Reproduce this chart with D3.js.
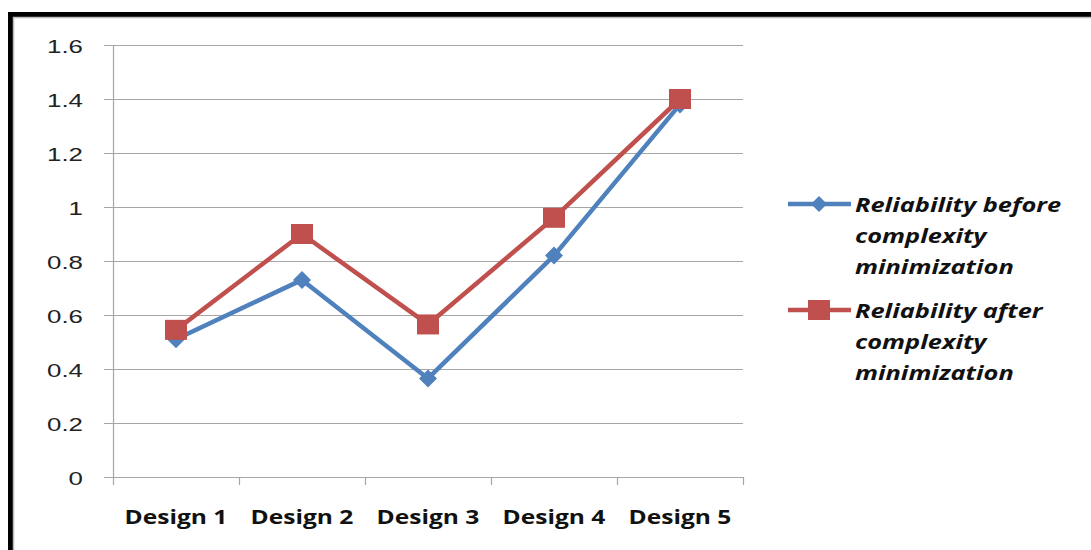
<!DOCTYPE html>
<html><head><meta charset="utf-8">
<script src="https://cdn.jsdelivr.net/npm/d3@7"></script>
<style>html,body{margin:0;padding:0;background:#fff;overflow:hidden}</style>
</head><body>
<svg id="c" width="1091" height="550"></svg>
<script>
const categories = ["Design 1","Design 2","Design 3","Design 4","Design 5"];
const before = [0.51, 0.73, 0.365, 0.82, 1.38];
const after = [0.545, 0.90, 0.565, 0.96, 1.40];
const yTicks = [0, 0.2, 0.4, 0.6, 0.8, 1, 1.2, 1.4, 1.6];
const seriesNames = [["Reliability before","complexity","minimization"],["Reliability after","complexity","minimization"]];

const svg = d3.select("#c");
function stretch(sel, f){
  sel.each(function(){
    const w = this.getComputedTextLength();
    d3.select(this).attr("textLength", w*f).attr("lengthAdjust","spacingAndGlyphs");
  });
}
// frame
svg.append("rect").attr("x",10.5).attr("y",14.5).attr("width",1200).attr("height",700)
  .attr("fill","none").attr("stroke","#000").attr("stroke-width",5);
svg.append("rect").attr("x",13.5).attr("y",17.5).attr("width",1200).attr("height",700)
  .attr("fill","none").attr("stroke","#bbb").attr("stroke-width",1.5);

const L=113, R=743, T=45, B=477;
const x = d3.scaleBand().domain(categories).range([L,R]);
const y = d3.scaleLinear().domain([0,1.6]).range([B,T]);

const g = svg.append("g");
g.selectAll("line.grid").data(yTicks).join("line")
  .attr("x1",104).attr("x2",R).attr("y1",d=>Math.round(y(d))+0.5).attr("y2",d=>Math.round(y(d))+0.5)
  .attr("stroke","#a6a6a6").attr("stroke-width",1.2);
g.append("line").attr("x1",L+0.5).attr("x2",L+0.5).attr("y1",T).attr("y2",B).attr("stroke","#a6a6a6").attr("stroke-width",1.2);
const xt = categories.map(c=>x(c)).concat([R]);
g.selectAll("line.xt").data(xt).join("line")
  .attr("x1",d=>Math.round(d)+0.5).attr("x2",d=>Math.round(d)+0.5).attr("y1",B).attr("y2",B+8)
  .attr("stroke","#a6a6a6").attr("stroke-width",1.2);
const yl = g.selectAll("text.yl").data(yTicks).join("text")
  .attr("x",83).attr("y",d=>y(d)+1).attr("dy","0.36em").attr("text-anchor","end")
  .attr("font-family","Liberation Sans, Arial, sans-serif").attr("font-size",19).attr("fill","#222")
  .text(d=>String(+d.toFixed(1)));
stretch(yl, 1.36);
const xl = g.selectAll("text.xl").data(categories).join("text")
  .attr("x",d=>x(d)+x.bandwidth()/2).attr("y",524).attr("text-anchor","middle")
  .attr("font-family","Open Sans, sans-serif").attr("font-weight","bold").attr("font-size",19.5).attr("fill","#111")
  .text(d=>d);
stretch(xl, 1.26);

const line = d3.line().x((d,i)=>x(categories[i])+x.bandwidth()/2).y(d=>y(d));
const blue="#4F81BD", red="#C0504D";
g.append("path").datum(before).attr("d",line).attr("fill","none").attr("stroke",blue).attr("stroke-width",4.5).attr("stroke-linejoin","round");
g.selectAll("path.dm").data(before).join("path")
  .attr("d","M0,-9L9,0L0,9L-9,0Z").attr("fill",blue)
  .attr("transform",(d,i)=>`translate(${x(categories[i])+x.bandwidth()/2},${y(d)})`);
g.append("path").datum(after).attr("d",line).attr("fill","none").attr("stroke",red).attr("stroke-width",4.5).attr("stroke-linejoin","round");
g.selectAll("rect.sq").data(after).join("rect")
  .attr("x",(d,i)=>x(categories[i])+x.bandwidth()/2-11).attr("y",d=>y(d)-10)
  .attr("width",22).attr("height",20).attr("fill",red);

const leg = [{c:blue,shape:"d",y:204},{c:red,shape:"s",y:310}];
leg.forEach((l,i)=>{
  const lg = svg.append("g");
  lg.append("line").attr("x1",788).attr("x2",851).attr("y1",l.y).attr("y2",l.y).attr("stroke",l.c).attr("stroke-width",4.5);
  if(l.shape==="d") lg.append("path").attr("d","M0,-8L8,0L0,8L-8,0Z").attr("fill",l.c).attr("transform",`translate(819,${l.y})`);
  else lg.append("rect").attr("x",808).attr("y",l.y-10).attr("width",22).attr("height",20).attr("fill",l.c);
  const t = lg.selectAll("text").data(seriesNames[i]).join("text")
    .attr("x",855).attr("y",(d,j)=>l.y+8+j*31)
    .attr("font-family","Open Sans, sans-serif").attr("font-weight","bold").attr("font-style","italic")
    .attr("font-size",20).attr("fill","#111").text(d=>d);
  stretch(t, 1.27);
});
</script>
</body></html>
